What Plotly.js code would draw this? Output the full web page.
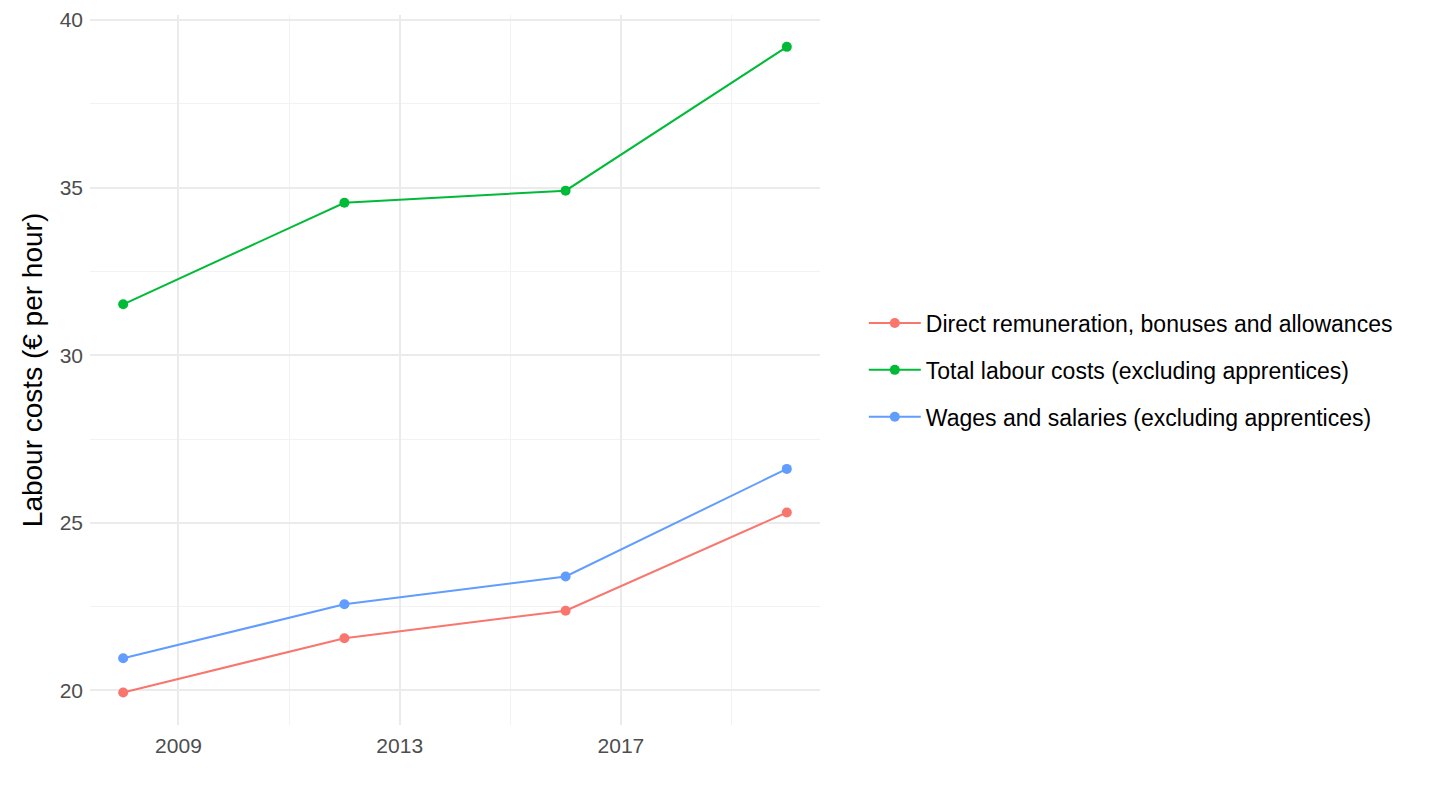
<!DOCTYPE html>
<html>
<head>
<meta charset="utf-8">
<script src="https://cdn.plot.ly/plotly-3.0.1.min.js"></script>
<style>
  html, body { margin: 0; padding: 0; background: #fff; }
  #myDiv { width: 1440px; height: 810px; }
</style>
</head>
<body>
<div id="myDiv"></div>
<script>
var years = [2008, 2012, 2016, 2020];
var direct_data = [19.94, 21.56, 22.38, 25.31];
var total_data = [31.52, 34.55, 34.91, 39.20];
var wages_data = [20.96, 22.57, 23.40, 26.61];

var xTickVals = [2009, 2013, 2017];
var xTickText = ['2009', '2013', '2017'];
var xMinorVals = [2011, 2015, 2019];
var yTickVals = [20, 25, 30, 35, 40];
var yMinorVals = [22.5, 27.5, 32.5, 37.5];

function series(name, y, color, group) {
  return {
    x: years,
    y: y,
    type: 'scatter',
    mode: 'lines+markers',
    name: name,
    legendgroup: group,
    line: {color: color, width: 2},
    marker: {color: color, size: 10}
  };
}

var direct = series('Direct remuneration, bonuses and allowances', direct_data, '#F8766D', 'a');
var total = series('Total labour costs (excluding apprentices)', total_data, '#00BA38', 'b');
var wages = series('Wages and salaries (excluding apprentices)', wages_data, '#619CFF', 'c');

var data = [direct, total, wages];
var layout = {
  width: 1440,
  height: 810,
  margin: {l: 90, r: 620, t: 15, b: 85},
  paper_bgcolor: '#ffffff',
  plot_bgcolor: '#ffffff',
  font: {family: 'Liberation Sans, Arial, sans-serif', color: '#4d4d4d'},
  xaxis: {
    range: [2007.4, 2020.6],
    tickvals: xTickVals,
    ticktext: xTickText,
    showgrid: true,
    gridcolor: '#ebebeb',
    gridwidth: 2,
    zeroline: false,
    showline: false,
    ticks: '',
    ticklabelstandoff: 6,
    tickfont: {size: 21, color: '#4d4d4d'},
    minor: {tickvals: xMinorVals, showgrid: true, gridcolor: '#f2f2f2', gridwidth: 1, ticks: ''}
  },
  yaxis: {
    range: [18.97, 40.15],
    tickvals: yTickVals,
    showgrid: true,
    gridcolor: '#ebebeb',
    gridwidth: 2,
    zeroline: false,
    showline: false,
    ticks: '',
    ticklabelstandoff: 6,
    tickfont: {size: 21, color: '#4d4d4d'},
    title: {text: 'Labour costs (€ per hour)', font: {size: 28, color: '#000000'}, standoff: 8},
    minor: {tickvals: yMinorVals, showgrid: true, gridcolor: '#f2f2f2', gridwidth: 1, ticks: ''}
  },
  showlegend: true,
  legend: {
    x: 1.06,
    xanchor: 'left',
    y: 0.5,
    yanchor: 'middle',
    traceorder: 'grouped',
    tracegroupgap: 14,
    itemwidth: 52,
    font: {size: 23, color: '#000000'},
    bgcolor: 'rgba(0,0,0,0)'
  }
};
Plotly.newPlot('myDiv', data, layout, {displayModeBar: false});
</script>
</body>
</html>
